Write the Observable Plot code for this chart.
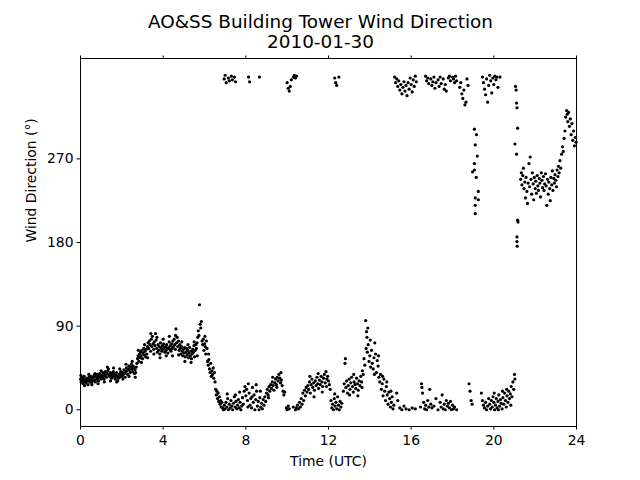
<!DOCTYPE html>
<html><head><meta charset="utf-8">
<script src="https://cdn.jsdelivr.net/npm/d3@7"></script>
<script src="https://cdn.jsdelivr.net/npm/@observablehq/plot@0.6"></script>
<style>body{margin:0;background:#fff;} #chart svg{font-family:"DejaVu Sans",sans-serif;}</style>
</head><body><div id="chart"></div>
<script>
const titleText = "AO&SS Building Tower Wind Direction";
const subtitleText = "2010-01-30";
const xLabel = "Time (UTC)";
const yLabel = "Wind Direction (°)";
const xTicks = [0, 4, 8, 12, 16, 20, 24];
const yTicks = [0, 90, 180, 270];

// [hour UTC, direction deg]
const morningBand = [
[0.00,33],[0.03,30],[0.06,35],[0.09,31],[0.12,28],[0.15,33],[0.18,36],[0.21,30],[0.24,32],[0.27,29],
[0.30,34],[0.33,31],[0.36,27],[0.39,33],[0.42,35],[0.45,30],[0.48,32],[0.51,36],[0.54,29],[0.57,34],
[0.60,31],[0.63,35],[0.66,37],[0.69,32],[0.72,30],[0.75,36],[0.78,33],[0.81,38],[0.84,34],[0.87,31],
[0.90,36],[0.93,39],[0.96,35],[0.99,33],[1.02,37],[1.05,34],[1.08,40],[1.11,36],[1.14,33],[1.17,38],
[1.20,41],[1.23,37],[1.26,35],[1.29,39],[1.32,42],[1.35,44],[1.38,38],[1.41,36],[1.44,40],[1.47,37],
[1.50,34],[1.53,39],[1.56,36],[1.59,41],[1.62,38],[1.65,35],[1.68,33],[1.71,37],[1.74,40],[1.77,36],
[1.80,31],[1.83,34],[1.86,38],[1.89,35],[1.92,39],[1.95,41],[1.98,37],[2.01,36],[2.04,40],[2.07,38],
[2.10,43],[2.13,39],[2.16,35],[2.19,41],[2.22,45],[2.25,42],[2.28,38],[2.31,44],[2.34,47],[2.37,43],
[2.40,40],[2.43,46],[2.46,49],[2.49,44],[2.52,41],[2.55,47],[2.58,45],[2.61,39],[2.64,43],[2.67,40],
[2.70,46],[2.73,50],[2.76,55],[2.79,58],[2.82,52],[2.85,60],[2.88,56],[2.91,62],[2.94,58],[2.97,64],
[3.00,55],[3.03,61],[3.06,66],[3.09,59],[3.12,63],[3.15,57],[3.18,65],[3.21,60],[3.24,68],[3.27,72],
[3.30,66],[3.33,74],[3.36,70],[3.39,63],[3.42,76],[3.45,68],[3.48,79],[3.51,71],[3.54,65],[3.57,73],
[3.60,69],[3.63,82],[3.66,75],[3.69,66],[3.72,62],[3.75,70],[3.78,64],[3.81,68],[3.84,60],[3.87,72],
[3.90,66],[3.93,63],[3.96,69],[3.99,65],[4.02,71],[4.05,67],[4.08,62],[4.11,68],[4.14,64],[4.17,70],
[4.20,66],[4.23,61],[4.26,67],[4.29,73],[4.32,65],[4.35,69],[4.38,63],[4.41,71],[4.44,66],[4.47,74],
[4.50,68],[4.53,76],[4.56,70],[4.59,65],[4.62,87],[4.65,72],[4.68,78],[4.71,68],[4.74,74],[4.77,64],
[4.80,70],[4.83,66],[4.86,60],[4.89,68],[4.92,63],[4.95,58],[4.98,65],[5.01,61],[5.04,67],[5.07,57],
[5.10,62],[5.13,66],[5.16,59],[5.19,64],[5.22,56],[5.25,61],[5.28,67],[5.31,58],[5.34,63],[5.37,55],
[5.40,60],[5.43,65],[5.46,62],[5.49,69],[5.52,57],[5.55,64],[5.58,70],[5.61,66],[5.64,72],[5.67,78],
[5.70,85],[5.73,80],[5.76,113],[5.79,92],[5.82,88],[5.85,95],[5.88,74],[5.91,70],[5.94,76],[5.97,64],
[6.00,71],[6.03,68],[6.06,60],[6.09,74],[6.12,66],[6.15,52],[6.18,48],[6.21,54],[6.24,44],[6.27,40],
[6.30,50],[6.33,36],[6.36,42],[6.39,38],[6.42,45],[6.45,34],[6.48,40],[6.51,30],[6.54,22],[6.57,16],
[6.60,20],[6.63,12],[6.66,18],[6.69,9],[6.72,14],[6.75,6],[6.78,10],[6.81,3],[6.84,8],
[0.02,37],[0.20,26],[0.40,38],[0.55,27],[0.70,39],[0.85,28],[1.00,42],[1.15,30],[1.30,46],[1.45,31],
[1.60,45],[1.75,30],[1.90,44],[2.05,33],[2.20,49],[2.35,36],[2.50,52],[2.65,35],[2.80,64],[2.95,51],
[3.10,70],[3.25,56],[3.40,82],[3.55,60],[3.70,78],[3.85,56],[4.00,76],[4.15,58],[4.30,79],[4.45,58],
[4.60,80],[4.75,59],[4.90,73],[5.05,52],[5.20,70],[5.35,51],[5.50,73],[5.65,58],[6.02,79],[6.20,60]
];

const middayLow = [
[6.88,2],[6.92,0],[6.96,5],[7.00,1],[7.04,8],[7.08,3],[7.12,12],[7.16,0],[7.20,6],[7.24,2],
[7.28,10],[7.32,4],[7.36,0],[7.40,7],[7.44,14],[7.48,3],[7.52,9],[7.56,1],[7.60,5],[7.64,11],
[7.68,2],[7.72,8],[7.76,0],[7.80,4],[7.84,13],[7.88,6],[7.92,20],[7.96,25],[8.00,15],[8.04,22],
[8.08,10],[8.12,28],[8.16,18],[8.20,5],[8.24,12],[8.28,2],[8.32,24],[8.36,8],[8.40,16],[8.44,0],
[8.48,11],[8.52,20],[8.56,4],[8.60,9],[8.64,0],[8.68,13],[8.72,3],[8.76,7],[8.80,1],[8.84,11],
[8.88,5],[8.92,14],[8.96,9],[9.00,18],[9.04,22],[9.08,16],[9.12,25],[9.16,20],[9.20,27],[9.24,23],
[9.28,30],[9.32,26],[9.36,21],[9.40,29],[9.44,33],[9.48,27],[9.52,35],[9.56,31],[9.60,38],[9.64,34],
[9.68,29],[9.72,32],[9.76,26],[9.80,20],[9.84,16],[9.88,19],[9.96,2],[10.00,0],[10.05,4],[10.10,1],
[10.30,3],[10.40,0],[10.45,2],[10.50,5],[10.55,1],[10.60,8],[10.64,3],[10.68,12],[10.72,6],[10.76,18],
[10.80,10],[10.84,21],[10.88,15],[10.92,24],[10.96,19],[11.00,26],[11.04,22],[11.08,30],[11.12,18],[11.16,27],
[11.20,33],[11.24,24],[11.28,29],[11.32,21],[11.36,31],[11.40,26],[11.44,35],[11.48,28],[11.52,23],[11.56,32],
[11.60,27],[11.64,36],[11.68,30],[11.72,25],[11.76,34],[11.80,38],[11.84,29],[11.88,41],[11.92,33],[11.96,36],
[12.00,31],[12.04,27],[12.08,22],[12.12,10],[12.16,2],[12.20,6],[12.24,0],[12.28,12],[12.32,4],[12.36,8],
[12.40,1],[12.44,14],[12.48,5],[12.52,0],[12.56,9],[12.60,3],[12.64,7],
[7.10,17],[7.50,16],[7.70,19],[8.10,3],[8.30,14],[8.50,27],[8.70,20],[9.10,13],[9.30,35],[9.50,24],
[9.70,40],[11.10,36],[11.30,14],[11.50,39],[11.70,19],[11.90,25],[12.30,17]
];

const afternoonLow = [
[12.72,20],[12.76,28],[12.80,50],[12.82,55],[12.84,24],[12.88,31],[12.92,18],[12.96,26],[13.00,33],[13.04,22],
[13.08,29],[13.12,35],[13.16,25],[13.20,19],[13.24,30],[13.28,27],[13.32,23],[13.36,34],[13.40,28],[13.44,21],
[13.48,31],[13.52,26],[13.56,36],[13.60,30],[13.64,42],[13.68,38],[13.72,55],[13.76,48],[13.80,96],[13.84,84],
[13.86,78],[13.88,62],[13.92,70],[13.96,52],[14.00,58],[14.04,46],[14.08,64],[14.12,50],[14.16,44],[14.20,56],
[14.24,72],[14.28,60],[14.32,40],[14.36,53],[14.40,47],[14.44,35],[14.48,30],[14.52,38],[14.56,22],[14.60,28],
[14.64,15],[14.68,33],[14.72,20],[14.76,10],[14.80,25],[14.84,16],[14.88,6],[14.92,19],[14.96,12],[15.00,3],
[15.04,8],[15.08,14],[15.12,1],[15.16,5],[15.30,18],[15.35,10],[15.45,2],[15.55,0],[15.65,4],[15.75,1],
[15.90,0],[16.05,2],[16.20,1],[16.45,3],[16.50,28],[16.52,24],[16.55,18],[16.60,8],[16.65,1],[16.70,5],
[16.75,0],[16.80,10],[16.85,3],[16.90,22],[16.95,6],[17.00,2],[17.10,4],[17.20,12],[17.30,0],[17.40,8],
[17.45,3],[17.50,16],[17.55,1],[17.60,6],[17.65,0],[17.70,10],[17.75,4],[17.80,7],[17.85,2],[17.90,9],
[17.95,0],[18.00,5],[18.05,1],[18.10,3],[18.20,0],[18.80,28],[18.85,20],[18.90,10],[18.95,6],[19.40,18],
[19.45,10],[19.50,5],[19.55,2],[19.60,8],[19.65,0],[19.70,4],[19.75,12],[19.80,6],[19.84,1],[19.88,10],
[19.92,3],[19.96,14],[20.00,8],[20.04,0],[20.08,5],[20.12,12],[20.16,2],[20.20,9],[20.24,16],[20.28,4],
[20.32,11],[20.36,7],[20.40,1],[20.44,13],[20.48,6],[20.52,18],[20.56,10],[20.60,3],[20.64,15],[20.68,8],
[20.72,20],[20.76,12],[20.80,17],[20.84,25],[20.88,14],[20.92,30],[20.96,22],[21.00,38],[21.02,33],
[13.02,16],[13.22,38],[13.42,15],[13.62,24],[13.82,66],[13.90,88],[14.02,75],[14.22,38],[14.42,58],[14.62,36],
[14.82,30],[15.02,20],[20.02,18],[20.22,0],[20.42,20],[20.62,22],[20.82,5]
];

const northWrap = [
[6.95,356],[7.00,360],[7.05,352],[7.15,357],[7.20,354],[7.30,359],[7.35,355],[7.45,358],[7.50,353],
[8.13,358],[8.18,353],[8.66,358],
[10.00,352],[10.05,346],[10.10,343],[10.15,348],[10.20,355],[10.30,358],[10.35,360],[10.40,357],[10.45,359],
[12.30,357],[12.35,352],[12.40,349],[12.50,358],
[15.20,358],[15.25,352],[15.30,356],[15.35,348],[15.40,354],[15.45,344],[15.50,350],[15.55,340],[15.60,347],[15.65,353],
[15.70,343],[15.75,349],[15.80,338],[15.85,352],[15.90,345],[15.95,357],[16.00,350],[16.05,342],[16.10,355],[16.15,348],
[16.20,359],[16.25,353],
[16.70,359],[16.75,354],[16.80,357],[16.85,351],[16.95,356],[17.00,349],[17.05,353],[17.10,358],[17.15,346],[17.20,352],
[17.30,355],[17.35,348],[17.40,358],[17.45,351],[17.55,356],[17.60,345],[17.65,350],[17.70,343],[17.80,357],[17.85,359],
[17.90,354],[18.00,358],[18.05,356],[18.10,352],[18.15,359],[18.20,354],
[18.35,347],[18.40,352],[18.45,340],[18.50,335],[18.55,344],[18.60,328],[18.65,331],[18.70,356],[18.75,349],
[19.45,358],[19.50,352],[19.55,345],[19.60,339],[19.65,356],[19.70,331],[19.75,349],[19.80,360],[19.85,354],[19.90,341],
[19.95,357],[20.00,350],[20.05,359],[20.10,355],[20.15,358],[20.20,347],[20.30,358]
];

const eveningVeer = [
[19.06,302],[19.16,296],[19.10,285],[19.20,273],[19.06,265],[19.06,258],[18.97,256],[19.15,250],[19.25,235],[19.10,228],
[19.25,226],[19.10,220],[19.10,211],
[21.05,348],[21.08,344],[21.10,330],[21.12,325],[21.15,303],[21.02,286],[21.10,275],[21.15,204],[21.17,202],[21.12,186],
[21.12,181],[21.13,176],
[21.30,248],[21.33,255],[21.36,242],[21.40,252],[21.43,260],[21.46,238],[21.50,245],[21.53,228],[21.56,250],[21.60,235],
[21.63,222],[21.66,244],[21.70,265],[21.73,240],[21.76,272],[21.80,248],[21.83,232],[21.86,255],[21.90,243],[21.93,226],
[21.96,250],[22.00,238],[22.03,246],[22.06,233],[22.10,252],[22.13,241],[22.16,236],[22.20,249],[22.23,244],[22.26,229],
[22.30,255],[22.33,247],[22.36,239],[22.40,251],[22.43,236],[22.46,243],[22.50,254],[22.53,241],[22.56,220],[22.60,248],
[22.63,232],[22.66,245],[22.70,238],[22.73,225],[22.76,250],[22.80,242],[22.83,257],[22.86,236],[22.90,249],[22.93,244],
[22.96,253],[23.00,247],[23.03,240],[23.06,258],[23.10,251],[23.13,262],[23.16,255],[23.20,268],[23.24,260],[23.28,275],
[23.32,283],[23.36,278],[23.40,292],[23.44,300],[23.48,315],[23.52,322],[23.55,318],[23.58,310],[23.62,320],[23.66,305],
[23.70,313],[23.74,296],[23.78,308],[23.82,290],[23.86,300],[23.90,284],[23.94,293],[23.98,288]
];

const observations = [...morningBand, ...middayLow, ...afternoonLow, ...northWrap, ...eveningVeer]
  .map(([t, d]) => ({t, d}));

const chart = Plot.plot({
  width: 640,
  height: 480,
  marginTop: 58,
  marginLeft: 80,
  marginRight: 64,
  marginBottom: 54,
  style: {fontFamily: "DejaVu Sans", fontSize: "13.9px", color: "black", background: "white", overflow: "visible"},
  x: {domain: [0, 24], label: null},
  y: {domain: [-18, 378], label: null},
  marks: [
    Plot.dot(observations, {x: "t", y: "d", r: 1.6, fill: "black", stroke: null}),
    Plot.frame({stroke: "black", strokeWidth: 1}),
    Plot.axisX(xTicks, {tickSize: 3.5, tickPadding: 5, label: null, strokeWidth: 1}),
    Plot.axisX(xTicks, {anchor: "top", tickSize: 3.5, tickFormat: () => "", label: null, strokeWidth: 1}),
    Plot.axisY(yTicks, {tickSize: 3.5, tickPadding: 3.5, label: null, strokeWidth: 1}),
    Plot.text([titleText], {frameAnchor: "top", dx: -8, dy: -44, fontSize: 18.4, fill: "black", text: d => d}),
    Plot.text([subtitleText], {frameAnchor: "top", dx: -8, dy: -24, fontSize: 18.4, fill: "black", text: d => d}),
    Plot.text([xLabel], {frameAnchor: "bottom", dy: 39, fontSize: 13.9, fill: "black", text: d => d}),
    Plot.text([yLabel], {frameAnchor: "left", dx: -49, rotate: -90, fontSize: 13.9, fill: "black", text: d => d})
  ]
});
document.getElementById("chart").append(chart);
</script>
</body></html>
